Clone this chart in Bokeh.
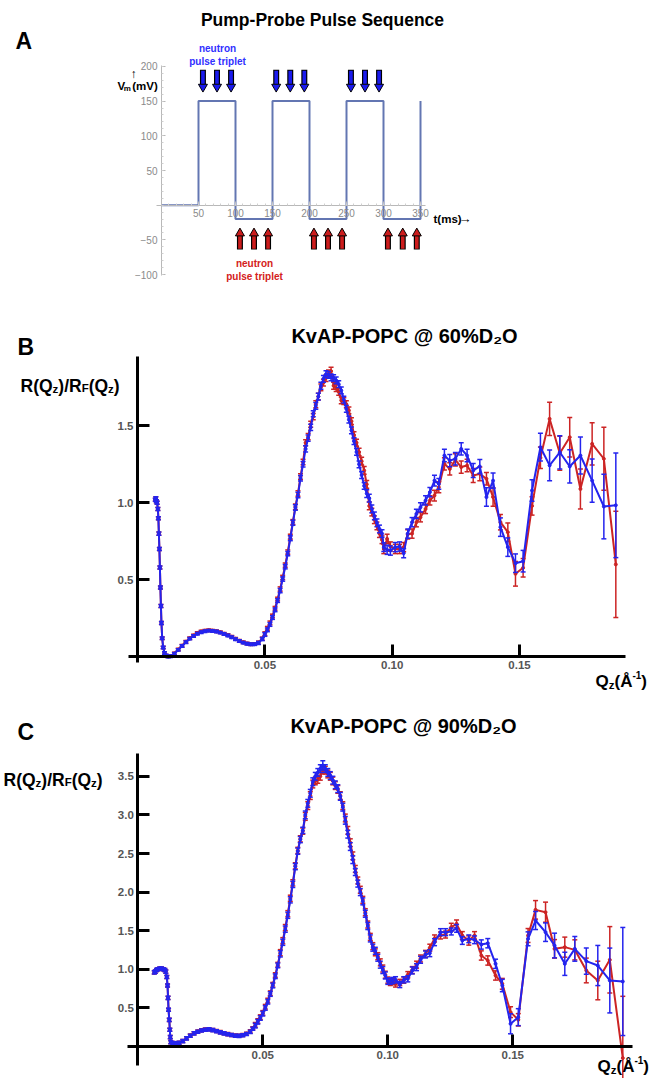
from bokeh.plotting import figure
from bokeh.layouts import column
from bokeh.models import Label, FixedTicker, Range1d, NumeralTickFormatter
from bokeh.embed import file_html
from bokeh.resources import INLINE

# ---------------- Panel A data ----------------
sig_t = [0, 50, 100, 150, 200, 250, 300, 350]
sig_v = [0, 150, -20, 150, -20, 150, -20, 150]
pump_t = [56, 75, 94, 155, 174, 193, 256, 275, 294]      # blue (down) neutron pulses
probe_t = [106, 125, 144, 206, 225, 244, 306, 326, 345]  # red (up) neutron pulses
pump_tail, pump_tip = 195, 163
probe_tail, probe_tip = -64, -33
a_xticks = [50, 100, 150, 200, 250, 300, 350]
a_yticks = [-100, -50, 50, 100, 150, 200]

# ---------------- Panel B data (60% D2O) ----------------
q_b = [0.0070, 0.0072, 0.0074, 0.0077, 0.0080, 0.0082, 0.0084, 0.0086, 0.0088, 0.0090,
       0.0092, 0.0094, 0.0097, 0.0101, 0.0106, 0.0112, 0.0120, 0.0130, 0.0145, 0.0160,
       0.0175, 0.0190, 0.0205, 0.0220, 0.0235, 0.0250, 0.0265, 0.0280, 0.0295, 0.0310,
       0.0325, 0.0340, 0.0355, 0.0370, 0.0385, 0.0400, 0.0415, 0.0430, 0.0445, 0.0460,
       0.0475, 0.0490, 0.0500, 0.0510, 0.0520, 0.0530, 0.0540, 0.0550, 0.0560, 0.0570,
       0.0580, 0.0590, 0.0600, 0.0610, 0.0620, 0.0630, 0.0640, 0.0650, 0.0660, 0.0670,
       0.0680, 0.0690, 0.0700, 0.0710, 0.0720, 0.0730, 0.0740, 0.0750, 0.0760, 0.0770,
       0.0780, 0.0790, 0.0800, 0.0810, 0.0820, 0.0830, 0.0840, 0.0850, 0.0860, 0.0870,
       0.0880, 0.0890, 0.0900, 0.0910, 0.0920, 0.0930, 0.0940, 0.0950, 0.0960, 0.0967,
       0.0980, 0.0993, 0.1012, 0.1029, 0.1045, 0.1061, 0.1078, 0.1095, 0.1111, 0.1131,
       0.1148, 0.1166, 0.1183, 0.1205, 0.1226, 0.1248, 0.1271, 0.1294, 0.1318, 0.1344,
       0.1370, 0.1396, 0.1425, 0.1454, 0.1484, 0.1514, 0.1549, 0.1582, 0.1618, 0.1658,
       0.1697, 0.1739, 0.1785, 0.1831, 0.1878]
r_b_pump = [1.02, 1.03, 1.01, 1.00, 0.96, 0.90, 0.80, 0.70, 0.58, 0.45,
            0.33, 0.22, 0.12, 0.06, 0.025, 0.008, 0.002, 0.004, 0.020, 0.045,
            0.070, 0.095, 0.118, 0.135, 0.150, 0.160, 0.166, 0.170, 0.168, 0.164,
            0.157, 0.148, 0.138, 0.127, 0.114, 0.102, 0.092, 0.085, 0.081, 0.082,
            0.090, 0.115, 0.145, 0.175, 0.210, 0.255, 0.305, 0.365, 0.430, 0.505,
            0.585, 0.670, 0.770, 0.870, 0.970, 1.050, 1.160, 1.250, 1.350, 1.420,
            1.490, 1.578, 1.630, 1.690, 1.760, 1.805, 1.835, 1.830, 1.815, 1.810,
            1.795, 1.770, 1.730, 1.670, 1.610, 1.540, 1.470, 1.400, 1.330, 1.250,
            1.180, 1.110, 1.060, 1.030, 0.960, 0.915, 0.870, 0.830, 0.800, 0.712,
            0.695, 0.690, 0.712, 0.716, 0.673, 0.800, 0.874, 0.928, 0.971, 1.015,
            1.069, 1.144, 1.123, 1.307, 1.274, 1.286, 1.350, 1.307, 1.210, 1.236,
            1.037, 1.144, 0.842, 0.712, 0.608, 0.621, 1.080, 1.361, 1.243, 1.328,
            1.236, 1.307, 1.144, 0.976, 0.984]
r_b_probe = [1.02, 1.03, 1.01, 1.00, 0.96, 0.90, 0.80, 0.70, 0.58, 0.45,
             0.33, 0.22, 0.12, 0.06, 0.025, 0.008, 0.003, 0.005, 0.022, 0.047,
             0.072, 0.098, 0.121, 0.139, 0.155, 0.165, 0.170, 0.172, 0.170, 0.166,
             0.160, 0.150, 0.142, 0.130, 0.117, 0.104, 0.094, 0.086, 0.082, 0.083,
             0.092, 0.118, 0.150, 0.185, 0.220, 0.265, 0.315, 0.375, 0.440, 0.515,
             0.595, 0.680, 0.780, 0.875, 0.975, 1.060, 1.170, 1.265, 1.390, 1.430,
             1.510, 1.560, 1.640, 1.690, 1.750, 1.780, 1.810, 1.840, 1.855, 1.760,
             1.745, 1.720, 1.665, 1.660, 1.640, 1.600, 1.530, 1.440, 1.390, 1.330,
             1.270, 1.210, 1.120, 0.980, 0.940, 0.890, 0.850, 0.800, 0.760, 0.700,
             0.766, 0.716, 0.700, 0.700, 0.712, 0.795, 0.800, 0.874, 0.906, 0.960,
             1.015, 1.047, 1.101, 1.253, 1.220, 1.279, 1.232, 1.242, 1.177, 1.188,
             1.156, 1.037, 0.874, 0.809, 0.539, 0.578, 0.980, 1.292, 1.545, 1.322,
             1.426, 1.090, 1.383, 1.286, 0.600]
e_b_pump = [0.010, 0.010, 0.010, 0.010, 0.010, 0.010, 0.010, 0.010, 0.010, 0.010,
            0.010, 0.010, 0.008, 0.008, 0.008, 0.008, 0.008, 0.008, 0.008, 0.008,
            0.008, 0.008, 0.008, 0.008, 0.008, 0.008, 0.008, 0.008, 0.008, 0.008,
            0.008, 0.008, 0.008, 0.008, 0.008, 0.008, 0.008, 0.008, 0.008, 0.008,
            0.010, 0.010, 0.012, 0.012, 0.012, 0.012, 0.012, 0.012, 0.014, 0.014,
            0.014, 0.014, 0.016, 0.016, 0.018, 0.018, 0.018, 0.018, 0.020, 0.020,
            0.020, 0.020, 0.022, 0.022, 0.022, 0.022, 0.022, 0.022, 0.022, 0.022,
            0.022, 0.022, 0.022, 0.022, 0.022, 0.022, 0.022, 0.022, 0.022, 0.022,
            0.022, 0.022, 0.025, 0.025, 0.025, 0.025, 0.025, 0.025, 0.025, 0.028,
            0.030, 0.030, 0.030, 0.030, 0.030, 0.030, 0.030, 0.030, 0.030, 0.030,
            0.030, 0.035, 0.035, 0.040, 0.040, 0.040, 0.040, 0.040, 0.045, 0.045,
            0.060, 0.050, 0.060, 0.060, 0.060, 0.070, 0.070, 0.090, 0.100, 0.108,
            0.108, 0.120, 0.140, 0.210, 0.340]
e_b_probe = [0.010, 0.010, 0.010, 0.010, 0.010, 0.010, 0.010, 0.010, 0.010, 0.010,
             0.010, 0.010, 0.008, 0.008, 0.008, 0.008, 0.008, 0.008, 0.008, 0.008,
             0.008, 0.008, 0.008, 0.008, 0.008, 0.008, 0.008, 0.008, 0.008, 0.008,
             0.008, 0.008, 0.008, 0.008, 0.008, 0.008, 0.008, 0.008, 0.008, 0.008,
             0.010, 0.010, 0.012, 0.012, 0.012, 0.012, 0.012, 0.012, 0.014, 0.014,
             0.014, 0.014, 0.016, 0.016, 0.018, 0.018, 0.018, 0.018, 0.020, 0.020,
             0.020, 0.020, 0.022, 0.022, 0.022, 0.022, 0.022, 0.022, 0.025, 0.022,
             0.022, 0.022, 0.022, 0.022, 0.022, 0.022, 0.022, 0.022, 0.022, 0.025,
             0.025, 0.025, 0.025, 0.025, 0.025, 0.025, 0.025, 0.025, 0.025, 0.030,
             0.030, 0.030, 0.030, 0.030, 0.030, 0.030, 0.030, 0.030, 0.030, 0.030,
             0.030, 0.035, 0.035, 0.040, 0.040, 0.040, 0.040, 0.040, 0.045, 0.045,
             0.040, 0.060, 0.050, 0.060, 0.080, 0.060, 0.060, 0.070, 0.108, 0.110,
             0.128, 0.130, 0.137, 0.205, 0.345]

# ---------------- Panel C data (90% D2O) ----------------
q_c = [0.0066, 0.0070, 0.0075, 0.0080, 0.0088, 0.0095, 0.0102, 0.0108, 0.0112, 0.0116,
       0.0119, 0.0121, 0.0123, 0.0126, 0.0128, 0.0130, 0.0132, 0.0140, 0.0152, 0.0165,
       0.0180, 0.0195, 0.0210, 0.0225, 0.0240, 0.0255, 0.0270, 0.0285, 0.0300, 0.0315,
       0.0330, 0.0345, 0.0360, 0.0375, 0.0390, 0.0405, 0.0420, 0.0435, 0.0450, 0.0460,
       0.0470, 0.0480, 0.0490, 0.0500, 0.0510, 0.0520, 0.0530, 0.0540, 0.0550, 0.0560,
       0.0570, 0.0580, 0.0590, 0.0600, 0.0610, 0.0620, 0.0630, 0.0640, 0.0650, 0.0660,
       0.0670, 0.0680, 0.0690, 0.0700, 0.0710, 0.0720, 0.0730, 0.0740, 0.0750, 0.0760,
       0.0770, 0.0780, 0.0790, 0.0800, 0.0810, 0.0820, 0.0830, 0.0840, 0.0850, 0.0860,
       0.0870, 0.0880, 0.0890, 0.0900, 0.0910, 0.0920, 0.0930, 0.0940, 0.0950, 0.0960,
       0.0970, 0.0980, 0.0990, 0.1000, 0.1010, 0.1020, 0.1031, 0.1048, 0.1064, 0.1080,
       0.1098, 0.1115, 0.1131, 0.1151, 0.1168, 0.1187, 0.1211, 0.1231, 0.1254, 0.1275,
       0.1298, 0.1324, 0.1347, 0.1374, 0.1400, 0.1431, 0.1458, 0.1491, 0.1522, 0.1561,
       0.1591, 0.1631, 0.1667, 0.1708, 0.1748, 0.1794, 0.1840, 0.1888, 0.1940]
r_c_pump = [0.96, 0.97, 0.99, 1.00, 1.01, 1.01, 1.00, 0.99, 0.97, 0.90,
            0.79, 0.63, 0.475, 0.345, 0.216, 0.121, 0.056, 0.045, 0.040, 0.048,
            0.070, 0.105, 0.140, 0.170, 0.192, 0.208, 0.218, 0.222, 0.212, 0.198,
            0.183, 0.170, 0.158, 0.148, 0.140, 0.138, 0.145, 0.162, 0.190, 0.230,
            0.270, 0.320, 0.370, 0.425, 0.500, 0.580, 0.680, 0.790, 0.910, 1.050,
            1.200, 1.350, 1.520, 1.700, 1.900, 2.100, 2.330, 2.530, 2.680, 2.800,
            3.000, 3.150, 3.280, 3.430, 3.500, 3.550, 3.600, 3.640, 3.600, 3.550,
            3.510, 3.450, 3.390, 3.340, 3.240, 3.100, 2.930, 2.750, 2.590, 2.420,
            2.260, 2.110, 2.000, 1.880, 1.720, 1.560, 1.400, 1.280, 1.240, 1.150,
            1.060, 0.990, 0.920, 0.845, 0.845, 0.855, 0.864, 0.803, 0.864, 0.877,
            0.985, 1.028, 1.123, 1.192, 1.209, 1.351, 1.481, 1.481, 1.490, 1.530,
            1.373, 1.395, 1.382, 1.321, 1.338, 1.071, 0.790, 0.294, 0.380, 1.395,
            1.632, 1.481, 1.308, 1.071, 1.265, 1.106, 1.049, 0.855, 0.842]
r_c_probe = [0.96, 0.97, 0.99, 1.00, 1.01, 1.01, 1.00, 0.99, 0.97, 0.90,
             0.79, 0.63, 0.475, 0.345, 0.216, 0.121, 0.056, 0.045, 0.040, 0.048,
             0.072, 0.107, 0.142, 0.172, 0.195, 0.210, 0.220, 0.223, 0.214, 0.200,
             0.186, 0.172, 0.160, 0.150, 0.142, 0.140, 0.148, 0.166, 0.196, 0.236,
             0.280, 0.330, 0.380, 0.435, 0.515, 0.595, 0.690, 0.800, 0.925, 1.060,
             1.215, 1.370, 1.540, 1.720, 1.920, 2.120, 2.340, 2.540, 2.690, 2.790,
             2.980, 3.120, 3.250, 3.400, 3.440, 3.460, 3.500, 3.580, 3.580, 3.530,
             3.500, 3.440, 3.380, 3.330, 3.250, 3.120, 2.960, 2.800, 2.640, 2.470,
             2.300, 2.150, 2.030, 1.900, 1.740, 1.580, 1.420, 1.300, 1.220, 1.170,
             1.090, 1.010, 0.930, 0.860, 0.830, 0.840, 0.810, 0.830, 0.860, 0.930,
             0.990, 1.060, 1.140, 1.200, 1.280, 1.400, 1.438, 1.450, 1.546, 1.589,
             1.438, 1.373, 1.438, 1.179, 1.114, 0.920, 0.812, 0.445, 0.346, 1.438,
             1.770, 1.740, 1.265, 1.287, 1.252, 0.985, 0.855, 1.123, -0.150]
e_c_pump = [0.02, 0.02, 0.02, 0.02, 0.02, 0.02, 0.02, 0.02, 0.02, 0.02,
            0.02, 0.02, 0.02, 0.02, 0.02, 0.02, 0.02, 0.02, 0.02, 0.02,
            0.02, 0.02, 0.02, 0.02, 0.02, 0.02, 0.02, 0.02, 0.02, 0.02,
            0.02, 0.02, 0.02, 0.02, 0.02, 0.02, 0.02, 0.02, 0.02, 0.02,
            0.03, 0.03, 0.03, 0.03, 0.03, 0.03, 0.03, 0.03, 0.03, 0.03,
            0.04, 0.04, 0.04, 0.04, 0.04, 0.04, 0.04, 0.04, 0.04, 0.04,
            0.05, 0.05, 0.05, 0.05, 0.05, 0.05, 0.05, 0.06, 0.05, 0.05,
            0.05, 0.05, 0.05, 0.05, 0.05, 0.05, 0.05, 0.05, 0.05, 0.05,
            0.045, 0.045, 0.045, 0.045, 0.045, 0.045, 0.045, 0.045, 0.045, 0.045,
            0.045, 0.045, 0.045, 0.04, 0.04, 0.04, 0.04, 0.04, 0.04, 0.04,
            0.045, 0.045, 0.045, 0.045, 0.045, 0.045, 0.045, 0.045, 0.045, 0.05,
            0.05, 0.05, 0.05, 0.06, 0.06, 0.06, 0.08, 0.13, 0.11, 0.09,
            0.117, 0.12, 0.16, 0.15, 0.16, 0.17, 0.26, 0.42, 0.70]
e_c_probe = [0.02, 0.02, 0.02, 0.02, 0.02, 0.02, 0.02, 0.02, 0.02, 0.02,
             0.02, 0.02, 0.02, 0.02, 0.02, 0.02, 0.02, 0.02, 0.02, 0.02,
             0.02, 0.02, 0.02, 0.02, 0.02, 0.02, 0.02, 0.02, 0.02, 0.02,
             0.02, 0.02, 0.02, 0.02, 0.02, 0.02, 0.02, 0.02, 0.02, 0.02,
             0.03, 0.03, 0.03, 0.03, 0.03, 0.03, 0.03, 0.03, 0.03, 0.03,
             0.04, 0.04, 0.04, 0.04, 0.04, 0.04, 0.04, 0.04, 0.04, 0.04,
             0.05, 0.05, 0.05, 0.05, 0.05, 0.05, 0.05, 0.05, 0.05, 0.05,
             0.05, 0.05, 0.05, 0.05, 0.05, 0.05, 0.05, 0.05, 0.05, 0.05,
             0.045, 0.045, 0.045, 0.045, 0.045, 0.045, 0.045, 0.045, 0.045, 0.045,
             0.045, 0.045, 0.045, 0.04, 0.04, 0.04, 0.04, 0.04, 0.04, 0.04,
             0.045, 0.045, 0.045, 0.045, 0.045, 0.045, 0.045, 0.045, 0.05, 0.05,
             0.05, 0.06, 0.05, 0.06, 0.06, 0.06, 0.07, 0.07, 0.08, 0.09,
             0.12, 0.13, 0.12, 0.13, 0.13, 0.16, 0.25, 0.43, 0.80]

b_xticks = [0.05, 0.10, 0.15]
b_yticks = [0.5, 1.0, 1.5]
c_xticks = [0.05, 0.10, 0.15]
c_yticks = [0.5, 1.0, 1.5, 2.0, 2.5, 3.0, 3.5]

for a, b in [(q_b, r_b_pump), (q_b, r_b_probe), (q_b, e_b_pump), (q_b, e_b_probe),
             (q_c, r_c_pump), (q_c, r_c_probe), (q_c, e_c_pump), (q_c, e_c_probe)]:
    assert len(a) == len(b), (len(a), len(b))

# ---------------- styling ----------------
BLUE = "#2424ee"
RED = "#cc2424"
FONT = "Liberation Sans"
NARROW = "Liberation Sans Narrow, Liberation Sans"
BOLD_W = {'R': 722, '(': 333, 'Q': 778, 'z': 500, ')': 333, '/': 278, 'F': 611, 'Å': 722,
          '-': 333, '1': 556, 'V': 667, 'm': 889, ' ': 278, 't': 333, 's': 556}
W = 650  # page is drawn from its top-left corner


def make_fig(w, h, xr, yr):
    p = figure(width=w, height=h, x_range=Range1d(*xr), y_range=Range1d(*yr),
               output_backend="svg", toolbar_location=None, min_border=0)
    p.grid.visible = False
    p.outline_line_color = None
    p.background_fill_color = "white"
    p.border_fill_color = "white"
    return p


def lab(p, x, y, text, size, color="black", bold=True, align="left", font=FONT):
    p.add_layout(Label(x=x, y=y, text=text, text_font=font, text_font_size=f"{size}px",
                       text_font_style="bold" if bold else "normal", text_color=color,
                       text_align=align, text_baseline="alphabetic"))


def runs(p, fx, fy, x0, base, parts, font=FONT, scale=1.0):
    x = x0
    for text, size, dy in parts:
        lead = len(text) - len(text.lstrip())
        xs = x + lead * BOLD_W[' '] * size / 1000.0 * scale
        lab(p, fx(xs), fy(base + dy), text.strip(), size, font=font)
        x += sum(BOLD_W.get(c, 556) for c in text) * size / 1000.0 * scale


# ================= Panel A =================
A_X0, A_SX, A_Y0, A_SY = 161.0, 0.74, 204.7, 0.694
ax_ = lambda xr: (xr - A_X0) / A_SX
ay_ = lambda yr: (A_Y0 - yr) / A_SY
pa = make_fig(W, 290, (ax_(0), ax_(W)), (ay_(290), ay_(0)))
xa, ya = pa.xaxis[0], pa.yaxis[0]
xa.fixed_location = 0
ya.fixed_location = 0
xa.bounds = (-7, 357)
ya.bounds = (-101, 202)
xa.ticker = FixedTicker(ticks=a_xticks, minor_ticks=list(range(10, 360, 10)))
ya.ticker = FixedTicker(ticks=a_yticks, minor_ticks=list(range(-100, 201, 10)))
for ax in (xa, ya):
    ax.axis_line_color = "#b8b8b8"
    ax.axis_line_width = 1
    ax.major_tick_line_color = "#b8b8b8"
    ax.minor_tick_line_color = "#cfcfcf"
    ax.major_tick_in = 4
    ax.major_tick_out = 0
    ax.minor_tick_in = 2
    ax.minor_tick_out = 0
    ax.major_label_text_color = "#8a8a8a"
    ax.major_label_text_font = FONT
    ax.major_label_text_font_size = "10px"
    ax.major_label_standoff = 4
ya.major_label_overrides = {-100: "\u2212100", -50: "\u221250"}

pa.step(sig_t, sig_v, mode="after", line_color="#6376b2", line_width=2)

HEAD = 9           # px size of arrow head marker
HEAD_OFF = 5.2 / A_SY
BASE_OFF = 7.8 / A_SY
n_pump = len(pump_t)
pa.segment(pump_t, [pump_tail] * n_pump, pump_t, [pump_tip + BASE_OFF] * n_pump,
           line_color="black", line_width=6)
pa.segment(pump_t, [pump_tail - 1.4] * n_pump, pump_t, [pump_tip + BASE_OFF] * n_pump,
           line_color="#1a1aee", line_width=3.6)
pa.scatter(pump_t, [pump_tip + HEAD_OFF] * n_pump, marker="inverted_triangle", size=HEAD,
           fill_color="#1a1aee", line_color="black", line_width=1)
n_probe = len(probe_t)
pa.segment(probe_t, [probe_tail] * n_probe, probe_t, [probe_tip - BASE_OFF] * n_probe,
           line_color="black", line_width=6)
pa.segment(probe_t, [probe_tail + 1.4] * n_probe, probe_t, [probe_tip - BASE_OFF] * n_probe,
           line_color="#cc1c1c", line_width=3.6)
pa.scatter(probe_t, [probe_tip - HEAD_OFF] * n_probe, marker="triangle", size=HEAD,
           fill_color="#cc1c1c", line_color="black", line_width=1)

lab(pa, ax_(322), ay_(19), "Pump-Probe Pulse Sequence", 17.5, align="center")
lab(pa, ax_(15), ay_(40), "A", 23)
lab(pa, ax_(217), ay_(47.7), "neutron", 10, color="#3030ff", align="center", font=NARROW)
lab(pa, ax_(217), ay_(60.7), "pulse triplet", 10, color="#3030ff", align="center", font=NARROW)
lab(pa, ax_(254), ay_(263.3), "neutron", 10, color="#d42020", align="center", font=NARROW)
lab(pa, ax_(254), ay_(275.7), "pulse triplet", 10, color="#d42020", align="center", font=NARROW)
lab(pa, ax_(133), ay_(73), "\u2191", 12, bold=False, align="center")
runs(pa, ax_, ay_, 117, 85, [("V", 11.5, 0), ("m", 8, 2.5), (" (mV)", 11.5, 0)], font=NARROW, scale=0.82)
lab(pa, ax_(433), ay_(218), "t(ms)", 11.5, font=NARROW)
lab(pa, ax_(458), ay_(218), "\u2192", 13, font=FONT)


# ================= Panels B and C =================
def style_axes(p, xb, yb):
    xa_, ya_ = p.xaxis[0], p.yaxis[0]
    xa_.fixed_location = 0
    ya_.fixed_location = 0
    xa_.bounds = xb
    ya_.bounds = yb
    for ax in (xa_, ya_):
        ax.axis_line_width = 3
        ax.axis_line_color = "black"
        ax.major_tick_line_width = 3
        ax.major_tick_line_color = "black"
        ax.major_tick_in = 12
        ax.major_tick_out = 0
        ax.minor_tick_line_color = None
        ax.major_label_text_font = FONT
        ax.major_label_text_font_style = "bold"
        ax.major_label_text_font_size = "11.5px"
        ax.major_label_text_color = "#555555"
        ax.major_label_standoff = 4
    return xa_, ya_


def series(p, q, r, e, color):
    lo = [a - b for a, b in zip(r, e)]
    hi = [a + b for a, b in zip(r, e)]
    p.segment(q, lo, q, hi, line_color=color, line_width=1.5)
    p.scatter(q, hi, marker="dash", size=5, line_color=color, line_width=1.5)
    p.scatter(q, lo, marker="dash", size=5, line_color=color, line_width=1.5)
    p.line(q, r, line_color=color, line_width=2)
    p.scatter(q, r, marker="circle", size=3, fill_color=color, line_color=color)


# ---- B ----
B_X0, B_SX, B_Y0, B_SY = 137.0, 2547.0, 656.3, 154.0
bx = lambda xr: (xr - B_X0) / B_SX
by = lambda yr: (B_Y0 - yr) / B_SY
pb = make_fig(W, 400, (bx(0), bx(W)), (by(690), by(290)))
xbx, ybx = style_axes(pb, (-0.0037, 0.1916), (-0.04, 1.95))
xbx.ticker = FixedTicker(ticks=b_xticks)
ybx.ticker = FixedTicker(ticks=b_yticks)
xbx.formatter = NumeralTickFormatter(format="0.00")
ybx.formatter = NumeralTickFormatter(format="0.0")
series(pb, q_b, r_b_probe, e_b_probe, RED)
series(pb, q_b, r_b_pump, e_b_pump, BLUE)
lab(pb, bx(404), by(335), "KvAP-POPC @ 60%D\u2082O", 20, align="center")
lab(pb, bx(17), by(346.7), "B", 23)
runs(pb, bx, by, 20, 385, [("R(Q", 17.5, 0), ("z", 11.5, 3), (")/R", 17.5, 0), ("F", 11.5, 2),
                           ("(Q", 17.5, 0), ("z", 11.5, 3), (")", 17.5, 0)])
runs(pb, bx, by, 595, 681, [("Q", 17, 0), ("z", 11.5, 3), ("(Å", 17, 0), ("-1", 10, -7), (")", 17, 0)])

# ---- C ----
C_X0, C_SX, C_Y0, C_SY = 137.3, 2500.0, 1046.0, 77.2
cx = lambda xr: (xr - C_X0) / C_SX
cy = lambda yr: (C_Y0 - yr) / C_SY
pc = make_fig(W, 388, (cx(0), cx(W)), (cy(1078), cy(690)))
xcx, ycx = style_axes(pc, (-0.0043, 0.1978), (-0.25, 3.8))
xcx.ticker = FixedTicker(ticks=c_xticks)
ycx.ticker = FixedTicker(ticks=c_yticks)
xcx.formatter = NumeralTickFormatter(format="0.00")
ycx.formatter = NumeralTickFormatter(format="0.0")
series(pc, q_c, r_c_probe, e_c_probe, RED)
series(pc, q_c, r_c_pump, e_c_pump, BLUE)
lab(pc, cx(403), cy(725), "KvAP-POPC @ 90%D\u2082O", 20, align="center")
lab(pc, cx(17), cy(731), "C", 23)
runs(pc, cx, cy, 3, 779, [("R(Q", 17.5, 0), ("z", 11.5, 3), (")/R", 17.5, 0), ("F", 11.5, 2),
                          ("(Q", 17.5, 0), ("z", 11.5, 3), (")", 17.5, 0)])
runs(pc, cx, cy, 597, 1066, [("Q", 17, 0), ("z", 11.5, 3), ("(Å", 17, 0), ("-1", 10, -7), (")", 17, 0)])

layout = column(pa, pb, pc)
open("out.html", "w").write(file_html(layout, INLINE, "chart"))
